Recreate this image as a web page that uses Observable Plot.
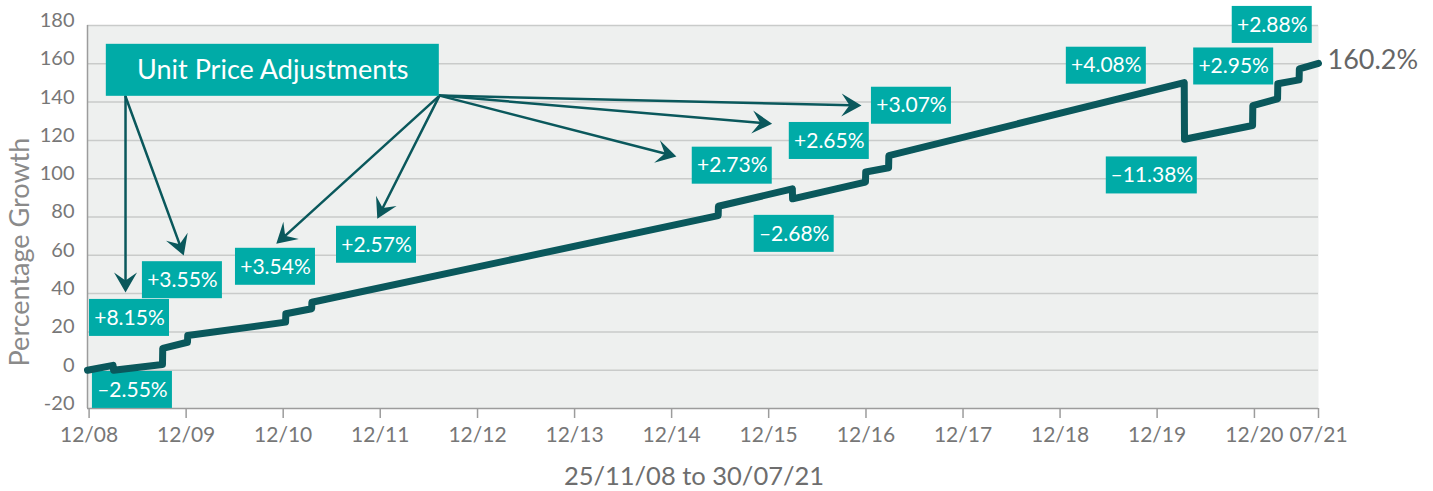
<!DOCTYPE html>
<html>
<head>
<meta charset="utf-8">
<script src="https://cdn.jsdelivr.net/npm/d3@7"></script>
<script src="https://cdn.jsdelivr.net/npm/@observablehq/plot@0.6"></script>
<style>
  html, body { margin: 0; padding: 0; background: #ffffff; }
  #chart svg { display: block; }
</style>
</head>
<body>
<div id="chart"></div>
<script>
// ---------- data ----------
const startDate = "2008-11-25";
const endDate = "2021-07-30";

const lineDates = [
  "2008-11-25", "2009-03-01", "2009-03-03", "2009-09-03", "2009-09-04",
  "2009-12-06", "2009-12-07", "2010-12-10", "2010-12-11", "2011-03-18",
  "2011-03-19", "2015-05-25", "2015-05-26", "2016-02-28", "2016-02-29",
  "2016-11-29", "2016-11-30", "2017-02-24", "2017-02-25", "2020-03-12",
  "2020-03-13", "2020-11-24", "2020-11-25", "2021-02-26", "2021-02-27",
  "2021-05-18", "2021-05-19", "2021-07-30"
];
const lineValues = [
  0, 2.5, 0.0, 3.0, 11.4,
  14.6, 18.1, 25.1, 29.5, 32.1,
  35.5, 80.7, 85.6, 94.7, 89.5,
  98.2, 103.5, 105.7, 112.0, 150.2,
  120.6, 127.8, 138.2, 141.7, 149.6,
  151.6, 157.4, 160.2
];

const yTicks = [-20, 0, 20, 40, 60, 80, 100, 120, 140, 160, 180];
const xTickDates = [
  "2008-12-01", "2009-12-01", "2010-12-01", "2011-12-01", "2012-12-01",
  "2013-12-01", "2014-12-01", "2015-12-01", "2016-12-01", "2017-12-01",
  "2018-12-01", "2019-12-01", "2020-12-01", "2021-07-30"
];
const xTickLabels = [
  "12/08", "12/09", "12/10", "12/11", "12/12", "12/13", "12/14",
  "12/15", "12/16", "12/17", "12/18", "12/19", "12/20", "07/21"
];

const annLabels = [
  "+8.15%", "–2.55%", "+3.55%", "+3.54%", "+2.57%", "+2.73%", "+2.65%",
  "+3.07%", "–2.68%", "+4.08%", "+2.95%", "+2.88%", "–11.38%"
];
const annDates = [
  "2009-05-02", "2009-05-13", "2009-11-17", "2010-11-02", "2011-11-17", "2015-07-17", "2016-07-16",
  "2017-05-21", "2016-03-06", "2019-05-24", "2020-09-14", "2021-02-06", "2019-11-11"
];
const annValues = [
  27.3, -10.3, 47.0, 54.0, 65.5, 106.8, 119.7,
  138.1, 71.2, 159.0, 158.6, 180.3, 101.7
];

const headerLabel = "Unit Price Adjustments";
const headerDate = "2010-10-23";
const headerValue = 156.6;

const arrowFromDates = ["2009-04-17", "2009-04-17", "2012-07-11", "2012-07-11", "2012-07-11", "2012-07-11", "2012-07-11"];
const arrowFromValues = [142.9, 142.9, 143.4, 143.4, 143.4, 143.4, 143.4];
const arrowToDates = ["2009-04-17", "2009-11-22", "2010-11-05", "2011-11-20", "2014-12-19", "2015-12-14", "2016-11-14"];
const arrowToValues = [40.6, 59.9, 66.0, 79.1, 111.6, 128.7, 138.2];

const xTitle = "25/11/08 to 30/07/21";
const yTitle = "Percentage Growth";

// ---------- build ----------
const parse = (s) => new Date(s + "T00:00:00Z");
const series = lineDates.map((d, i) => ({date: parse(d), value: lineValues[i]}));
const anns = annLabels.map((t, i) => ({label: t, date: parse(annDates[i]), value: annValues[i]}));
const header = [{label: headerLabel, date: parse(headerDate), value: headerValue}];
const arrows = arrowToDates.map((d, i) => ({
  x1: parse(arrowFromDates[i]), y1: arrowFromValues[i],
  x2: parse(d), y2: arrowToValues[i]
}));
const tickObjs = xTickDates.map(parse);
const tickLabelMap = new Map(tickObjs.map((d, i) => [+d, xTickLabels[i]]));
const last = series[series.length - 1];

const BG = "#eef0ef", GRID = "#c9cbca", AXIS = "#9c9c9c", TEAL = "#00aba7",
      DARK = "#0a585c", TICKTXT = "#777777";

const stealth = {
  draw(ctx) {
    ctx.moveTo(0, 0);
    ctx.lineTo(11.5, 20);
    ctx.lineTo(0, 12);
    ctx.lineTo(-11.5, 20);
    ctx.closePath();
  }
};

function build(angles) {
  const heads = arrows.map((a, i) => ({...a, angle: angles[i]}));
  const short = anns.filter((d) => d.label.length < 7);
  const long = anns.filter((d) => d.label.length >= 7);
  return Plot.plot({
    width: 1433,
    height: 491,
    marginLeft: 87,
    marginRight: 115,
    marginTop: 25,
    marginBottom: 83,
    style: {fontFamily: "Lato, sans-serif", background: "transparent", overflow: "visible"},
    x: {type: "utc", domain: [parse(startDate), parse(endDate)]},
    y: {domain: [-20, 180]},
    marks: [
      Plot.frame({fill: BG, stroke: null}),
      Plot.ruleY(yTicks.filter((v) => v !== -20), {stroke: GRID, strokeWidth: 1.5}),
      Plot.ruleX([parse(startDate)], {stroke: AXIS, strokeWidth: 1.5}),
      Plot.ruleY([-20], {stroke: AXIS, strokeWidth: 1.5}),
      Plot.axisY({ticks: yTicks, tickFormat: (d) => String(d), tickSize: 0, tickPadding: 13,
                  fontSize: 20, color: TICKTXT, dy: -5, label: null}),
      Plot.axisX({ticks: tickObjs, tickFormat: (d) => tickLabelMap.get(+d), tickSize: 10, tickPadding: 9,
                  fontSize: 21, color: TICKTXT, stroke: AXIS, strokeWidth: 1.5, label: null}),
      Plot.text([yTitle], {text: (d) => d, frameAnchor: "left", textAnchor: "middle", lineAnchor: "middle",
                           rotate: -90, dx: -67, dy: 35, fontSize: 27, fill: "#8a8a8a"}),
      Plot.text([xTitle], {text: (d) => d, frameAnchor: "bottom", textAnchor: "middle", lineAnchor: "middle",
                           dx: -9, dy: 68, fontSize: 25.5, fill: "#6e6e6e"}),
      // annotation boxes
      Plot.rect(short, {x1: "date", x2: "date", y1: "value", y2: "value", fill: TEAL,
                        insetLeft: -40, insetRight: -40, insetTop: -18.5, insetBottom: -18.5}),
      Plot.rect(long, {x1: "date", x2: "date", y1: "value", y2: "value", fill: TEAL,
                       insetLeft: -45.5, insetRight: -45.5, insetTop: -18.5, insetBottom: -18.5}),
      Plot.text(anns, {x: "date", y: "value", text: "label", fill: "white", fontSize: 21}),
      // series line
      Plot.line(series, {x: "date", y: "value", stroke: DARK, strokeWidth: 7,
                         strokeLinejoin: "round", strokeLinecap: "round"}),
      Plot.text([last], {x: "date", y: "value", text: (d) => `${d.value}%`, textAnchor: "start",
                         dx: 9, dy: -3, fontSize: 27, fill: "#666666"}),
      // arrows
      Plot.arrow(arrows, {x1: "x1", y1: "y1", x2: "x2", y2: "y2", stroke: DARK, strokeWidth: 2.5,
                          headLength: 0, insetEnd: 10}),
      Plot.dot(heads, {x: "x2", y: "y2", symbol: stealth, rotate: "angle", fill: DARK, stroke: "none", r: 10}),
      // header box
      Plot.rect(header, {x1: "date", x2: "date", y1: "value", y2: "value", fill: TEAL,
                         insetLeft: -166.5, insetRight: -166.5, insetTop: -26, insetBottom: -26}),
      Plot.text(header, {x: "date", y: "value", text: "label", fill: "white", fontSize: 27})
    ]
  });
}

const probe = build(arrows.map(() => 0));
const sx = probe.scale("x"), sy = probe.scale("y");
const angles = arrows.map((a) => {
  const dx = sx.apply(a.x2) - sx.apply(a.x1);
  const dy = sy.apply(a.y2) - sy.apply(a.y1);
  return Math.atan2(dx, -dy) * 180 / Math.PI;
});
document.getElementById("chart").append(build(angles));
</script>
</body>
</html>
